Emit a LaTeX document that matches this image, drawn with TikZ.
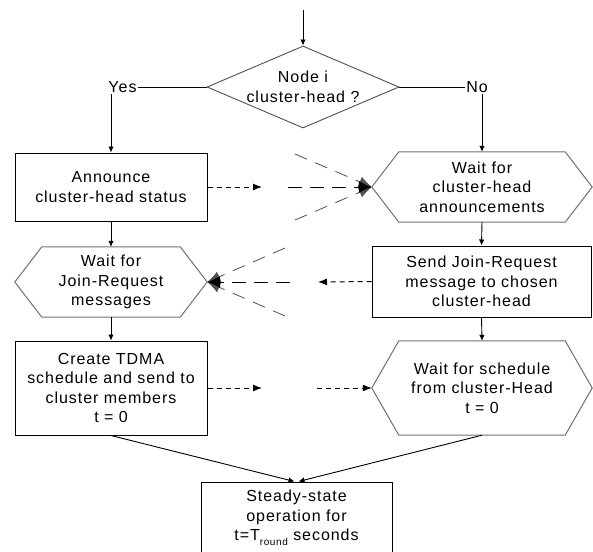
\documentclass[tikz,border=0pt]{standalone}
\usepackage{fontspec}
\setmainfont{Liberation Sans}[LetterSpace=6]
\usetikzlibrary{arrows.meta,shapes.geometric}
\definecolor{hexgray}{HTML}{707070}
\definecolor{diagray}{HTML}{505050}
\newcommand\hexdraw[1]{\draw[hexline] ([xshift=27pt]#1.north west) -- ([xshift=-27pt]#1.north east) -- (#1.east) -- ([xshift=-27pt]#1.south east) -- ([xshift=27pt]#1.south west) -- (#1.west) -- cycle;}
\begin{document}
\begin{tikzpicture}[x=1pt,y=-1pt,
  font=\fontsize{16}{19.5}\selectfont,
  boxnode/.style={draw=black, line width=1pt, align=center, inner sep=0pt},
  hexnode/.style={align=center, inner sep=0pt},
  hexline/.style={draw=hexgray, line width=1pt},
  lbl/.style={inner sep=1pt},
  flow/.style={draw=black, line width=0.9pt, -{Latex[length=6pt,width=5.5pt]}},
  sdash/.style={draw=black, line width=1pt, dash pattern=on 5pt off 4pt, -{Latex[length=9pt,width=7pt]}},
  ldash/.style={draw=black, line width=1pt, dash pattern=on 14pt off 8pt, -{Latex[length=13pt,width=12pt]}},
  fdash/.style={draw=diagray, line width=0.8pt, dash pattern=on 13pt off 9pt, -{Latex[length=13pt,width=11pt]}}]
\clip (0,0) rectangle (593,551);
\useasboundingbox (0,0) rectangle (593,551);

% decision
\node[diamond, draw=diagray, line width=0.9pt, minimum width=192pt, minimum height=82pt, inner sep=0pt] (dec) at (303,87) {};
\node[align=center, inner sep=0pt] (dect) at (303,87) {Node i\\cluster-head ?};
\coordinate (top) at (303,10);
\node[lbl] (yes) at (122.5,87) {Yes};
\node[lbl] (no) at (477,87) {No};

% left column
\node[boxnode, minimum width=192pt, minimum height=68pt] (A) at (111,187) {Announce\\cluster-head status};
\node[hexnode, minimum width=192pt, minimum height=70pt] (J) at (111,282) {Wait for\\Join-Request\\messages};
\node[boxnode, minimum width=192pt, minimum height=94pt] (C) at (111,388) {Create TDMA\\schedule and send to\\cluster members\\t = 0};

% right column
\node[hexnode, minimum width=220pt, minimum height=70pt] (W) at (482,187) {Wait for\\cluster-head\\announcements};
\node[boxnode, minimum width=219pt, minimum height=71pt] (S) at (481.5,281.5) {Send Join-Request\\message to chosen\\cluster-head};
\node[hexnode, minimum width=220pt, minimum height=94pt] (H) at (482,388) {Wait for schedule\\from cluster-Head\\t = 0};

% bottom
\node[boxnode, minimum width=191pt, minimum height=72pt] (B) at (296.5,518) {Steady-state\\operation for\\t=T\raisebox{-5pt}{\fontsize{10}{10}\selectfont round} seconds};

\hexdraw{J}
\hexdraw{W}
\hexdraw{H}

% flow connectors
\draw[flow] (top) -- (dec.north);
\draw[draw=black, line width=0.9pt] (dec.west) -- (yes.east);
\draw[draw=black, line width=0.9pt] (dec.east) -- (no.west);
\draw[flow] (A.north |- yes.south) -- (A.north);
\draw[flow] (W.north |- no.south) -- (W.north);
\draw[flow] (A.south) -- (J.north);
\draw[flow] (J.south) -- (C.north);
\draw[flow] (W.south) -- (S.north);
\draw[flow] (S.south) -- (H.north);
\draw[flow] (C.south) -- ([xshift=-2pt]B.north);
\draw[flow] (H.south) -- ([xshift=2pt]B.north);

% dashed messages
\coordinate (a1) at (262,187);
\coordinate (a2) at (288,187);
\coordinate (af1) at (295,154);
\coordinate (af2) at (295,220);
\draw[sdash] (A.east) -- (a1);
\draw[fdash] (af1) -- (W.west);
\draw[fdash] (af2) -- (W.west);
\draw[ldash] (a2) -- (W.west);

\coordinate (b1) at (318,282);
\coordinate (b2) at (290,282);
\coordinate (bf1) at (285,248);
\coordinate (bf2) at (285,316);
\draw[sdash] (S.west) -- (b1);
\draw[fdash] (bf1) -- (J.east);
\draw[fdash] (bf2) -- (J.east);
\draw[ldash] (b2) -- (J.east);

\coordinate (c1) at (262,388);
\coordinate (c2) at (317,388);
\draw[sdash] (C.east) -- (c1);
\draw[sdash] (c2) -- (H.west);
\end{tikzpicture}
\end{document}
